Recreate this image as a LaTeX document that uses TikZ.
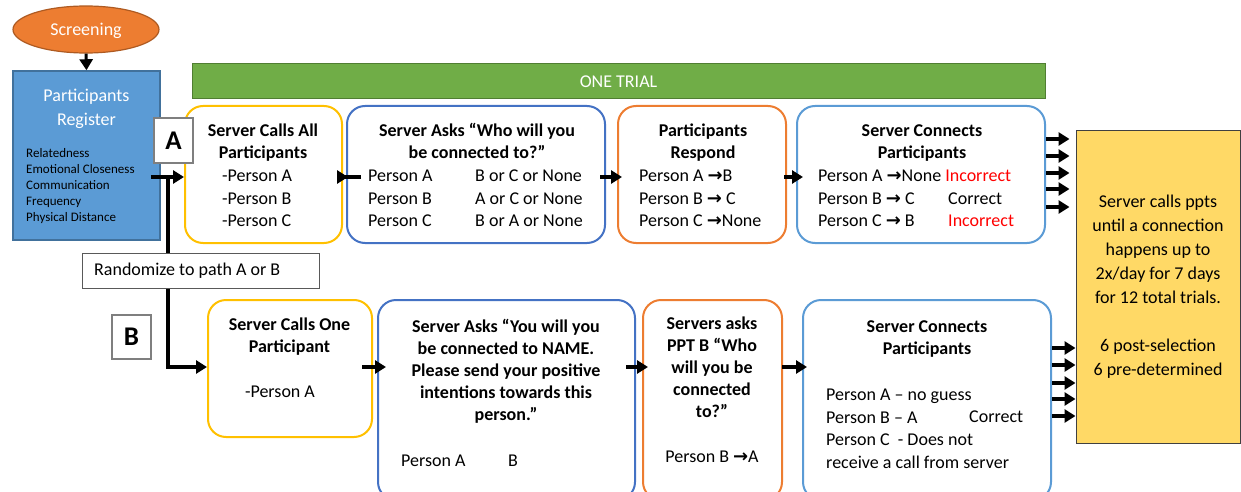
\documentclass[tikz,border=0pt]{standalone}
\usepackage{fontspec}
\setmainfont{Carlito}
\newfontfamily\symfont{DejaVu Sans}
\usetikzlibrary{arrows.meta,shapes.geometric}

\definecolor{scrorange}{HTML}{ED7D31}
\definecolor{scrborder}{HTML}{AE5A21}
\definecolor{regblue}{HTML}{5B9BD5}
\definecolor{regborder}{HTML}{41719C}
\definecolor{trialgreen}{HTML}{70AD47}
\definecolor{trialborder}{HTML}{507E32}
\definecolor{callyellow}{HTML}{FFC000}
\definecolor{askblue}{HTML}{4472C4}
\definecolor{connblue}{HTML}{5B9BD5}
\definecolor{resyellow}{HTML}{FFD966}
\definecolor{labgray}{HTML}{7F7F7F}

\newcommand{\ra}{{\symfont\bfseries →}}

\begin{document}
\begin{tikzpicture}[
  x=1pt, y=-1pt,
  box/.style={draw, rounded corners=18pt, line width=2pt, fill=white, inner sep=0pt},
  lbl/.style={draw=labgray, line width=1.3pt, fill=white, inner sep=0pt,
    font=\fontsize{27}{27}\selectfont\bfseries},
  txt/.style={inner sep=0pt, anchor=north, align=center, font=\fontsize{18}{22.5}\selectfont},
  ttl/.style={txt, font=\fontsize{18}{22}\selectfont\bfseries},
  col/.style={txt, anchor=north west, align=left},
  flow/.style={line width=4.5pt, -{Triangle[length=11pt,width=13pt]}}
]
\useasboundingbox (0,0) rectangle (1241,492);
\clip (0,0) rectangle (1241,492);

% --- screening and register ---
\node[ellipse, fill=scrorange, draw=scrborder, line width=1.2pt, minimum width=146pt,
  minimum height=47pt, text=white, text depth=0pt, font=\fontsize{18}{22}\selectfont]
  (scr) at (86,29.5) {Screening};
\node[draw=regborder, fill=regblue, line width=1.5pt, minimum width=147pt,
  minimum height=169pt] (reg) at (86.5,155.5) {};
\node[txt, text=white, font=\fontsize{18}{24}\selectfont] (regt) at (86.5,84.4) {\strut Participants\\Register};
\node[col, font=\fontsize{13}{16}\selectfont] (regl) at (26,146.5)
  {\strut Relatedness\\Emotional Closeness\\Communication\\Frequency\\Physical Distance};

% --- one trial bar ---
\node[draw=trialborder, fill=trialgreen, line width=1pt, minimum width=853pt, minimum height=35pt,
  text=white, font=\fontsize{18}{22}\selectfont] (trial) at (618.5,81.5) {ONE TRIAL};

% --- path A ---
\node[box, draw=callyellow, minimum width=157pt, minimum height=137pt] (a1) at (263.5,174.5) {};
\node[box, draw=askblue, minimum width=258pt, minimum height=137pt] (a2) at (476,174.5) {};
\node[box, draw=scrorange, minimum width=168pt, minimum height=137pt] (a3) at (702,174.5) {};
\node[box, draw=connblue, minimum width=248pt, minimum height=137pt] (a4) at (921,174.5) {};

\node[ttl] (a1t) at (263,121.3) {\strut Server Calls All\\Participants};
\node[col] (a1p) at (222,166) {\strut -Person A\\-Person B\\-Person C};
\node[ttl] (a2t) at (477,121.3) {\strut Server Asks “Who will you\\be connected to?”};
\node[col] (a2p) at (368,166) {\strut Person A\\Person B\\Person C};
\node[col] (a2o) at (475,166) {\strut B or C or None\\A or C or None\\B or A or None};
\node[ttl] (a3t) at (703,121.3) {\strut Participants\\Respond};
\node[col] (a3p) at (639,166) {\strut Person A \ra B\\Person B \ra{} C\\Person C \ra None};
\node[ttl] (a4t) at (922,121.3) {\strut Server Connects\\Participants};
\node[col] (a4p) at (818,166)
  {\strut Person A \ra None \textcolor{red}{Incorrect}\\Person B \ra{} C\\Person C \ra{} B};
\node[col] (a4r) at (948,166) {\strut\\Correct\\\textcolor{red}{Incorrect}};

% --- path B ---
\node[box, draw=callyellow, minimum width=164pt, minimum height=137pt] (b1) at (290,368.5) {};
\node[box, draw=askblue, minimum width=257pt, minimum height=200pt] (b2) at (506.5,400) {};
\node[box, draw=scrorange, minimum width=139pt, minimum height=200pt] (b3) at (712.5,400) {};
\node[box, draw=connblue, minimum width=248pt, minimum height=200pt] (b4) at (927,400) {};

\node[ttl] (b1t) at (289.5,315.3) {\strut Server Calls One\\Participant};
\node[txt] (b1p) at (280,382) {\strut -Person A};
\node[ttl] (b2t) at (506,317.3) {\strut Server Asks “You will you\\be connected to NAME.\\Please send your positive\\intentions towards this\\person.”};
\node[col] (b2p) at (401,451) {\strut Person A};
\node[col] (b2o) at (508,451) {\strut B};
\node[ttl] (b3t) at (712,314.3) {\strut Servers asks\\PPT B “Who\\will you be\\connected\\to?”};
\node[txt] (b3p) at (712,447) {\strut Person B \ra A};
\node[ttl] (b4t) at (927,317.3) {\strut Server Connects\\Participants};
\node[col] (b4p) at (826,385)
  {\strut Person A – no guess\\Person B – A\\Person C\ \ - Does not\\receive a call from server};
\node[col] (b4r) at (969,407) {\strut Correct};

% --- result ---
\node[draw=black!75, fill=resyellow, line width=1pt, minimum width=164pt, minimum height=313pt,
  align=center, font=\fontsize{18}{24}\selectfont] (res) at (1158,286.5)
  {Server calls ppts\\until a connection\\happens up to\\2x/day for 7 days\\for 12 total trials.\\\mbox{}\\6 post-selection\\6 pre-determined};

% --- connectors ---
\coordinate (rowA) at (0,177);
\coordinate (rowB) at (0,367);
\coordinate (split) at (168,177);
\draw[flow, line width=3pt] (scr.south) -- (reg.north);
\draw[flow, shorten <=-10pt] (reg.east |- rowA) -- (a1.west |- rowA);
\draw[flow] (split) |- (b1.west |- rowB);
\draw[flow, shorten <=-18pt, shorten >=-2pt] (a1.east |- rowA) -- (a2.west |- rowA);
\draw[flow, shorten <=-6pt, shorten >=-5pt] (a2.east |- rowA) -- (a3.west |- rowA);
\draw[flow, shorten <=-3pt, shorten >=-7pt] (a3.east |- rowA) -- (a4.west |- rowA);
\draw[flow, shorten <=-11pt, shorten >=-9pt] (b1.east |- rowB) -- (b2.west |- rowB);
\draw[flow, shorten <=-10pt, shorten >=-6pt] (b2.east |- rowB) -- (b3.west |- rowB);
\draw[flow, shorten <=-1pt, shorten >=-5pt] (b3.east |- rowB) -- (b4.west |- rowB);
\foreach \d in {35.5,18.5,1.5,-14.5,-32.5}
  \draw[flow, shorten >=6pt] ([yshift=\d]a4.east) -- ([yshift=\d]a4.east -| res.west);
\foreach \d in {52,35,17,1,-16}
  \draw[flow] ([yshift=\d]b4.east) -- ([yshift=\d]b4.east -| res.west);

% --- path labels ---
\node[lbl, minimum width=39pt, minimum height=45pt] (labA) at (173.5,140.5) {A};
\node[lbl, minimum width=39pt, minimum height=44pt] (labB) at (131.5,337) {B};
\node[draw=black!65, fill=white, line width=1pt, minimum height=35pt, minimum width=237pt]
  (rand) at (200.5,270.5) {};
\node[inner sep=0pt, anchor=west, font=\fontsize{18}{22}\selectfont] (randt) at (94,271)
  {Randomize to path A or B};

\end{tikzpicture}
\end{document}
